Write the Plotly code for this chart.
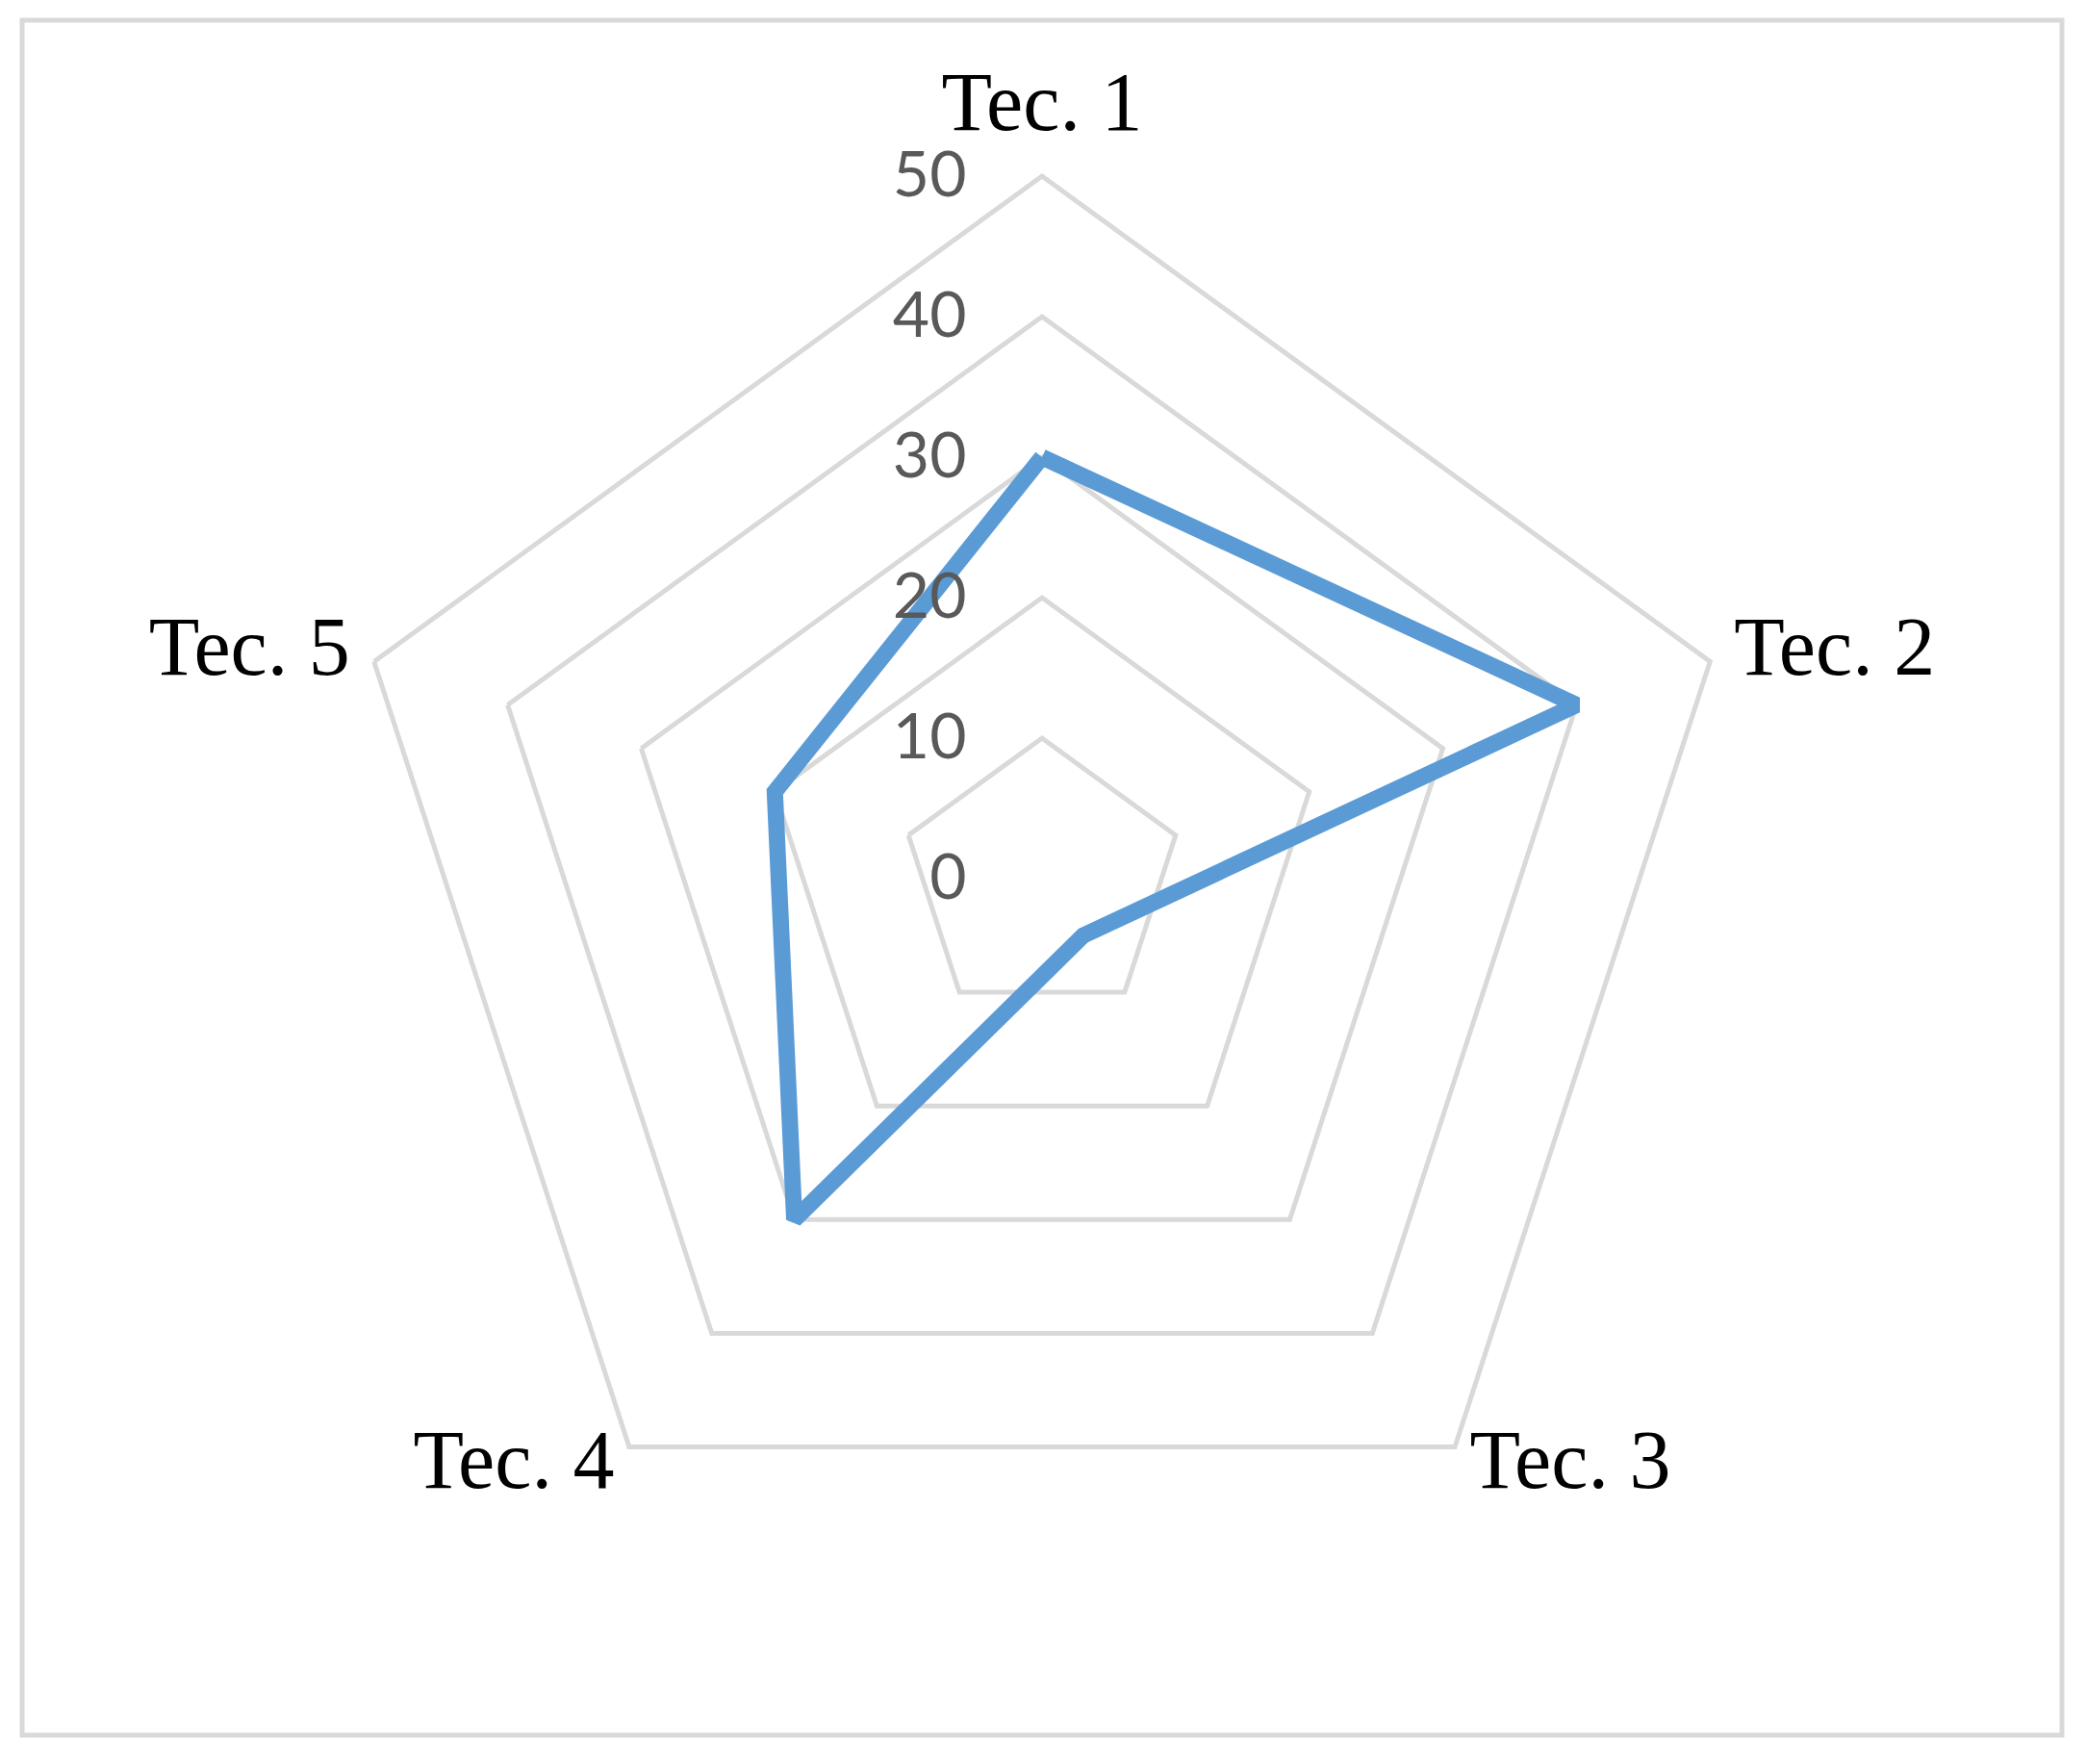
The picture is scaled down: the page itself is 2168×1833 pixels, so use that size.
import plotly.graph_objects as go

# data
categories = ["Tec. 1", "Tec. 2", "Tec. 3", "Tec. 4", "Tec. 5"]
values = [30, 40, 5, 30, 20]
radial_ticks = [0, 10, 20, 30, 40, 50]

W, H = 2168, 1833
OFF = 8  # page body margin
R_MAX = 55  # a bit of room past the 50 ring for the category labels
LABEL_R = 51.8
cx, cy = 1083 - OFF, 913 - OFF
rad = 730 * R_MAX / 50

fig = go.Figure()

fig.add_trace(go.Scatterpolar(
    r=values + values[:1],
    theta=categories + categories[:1],
    mode="lines",
    line=dict(color="#5b9bd5", width=17),
    showlegend=False,
))

# category labels, placed next to the outer ring like Excel does
fig.add_trace(go.Scatterpolar(
    r=[LABEL_R] * len(categories),
    theta=categories,
    mode="text",
    text=categories,
    textposition=["top center", "middle right", "middle right", "middle left", "middle left"],
    textfont=dict(family="Liberation Serif", size=86, color="black"),
    cliponaxis=False,
    hoverinfo="skip",
    showlegend=False,
))

fig.update_layout(
    width=W,
    height=H,
    margin=dict(l=0, r=0, t=0, b=0),
    paper_bgcolor="white",
    showlegend=False,
    polar=dict(
        domain=dict(
            x=[(cx - rad) / W, (cx + rad) / W],
            y=[(H - cy - rad) / H, (H - cy + rad) / H],
        ),
        bgcolor="white",
        gridshape="linear",
        radialaxis=dict(
            range=[0, R_MAX],
            tickvals=radial_ticks,
            angle=90,
            side="counterclockwise",
            showline=False,
            showgrid=True,
            gridcolor="#d9d9d9",
            gridwidth=5,
            ticks="outside",
            ticklen=55,
            tickcolor="rgba(0,0,0,0)",
            tickangle=90,
            tickfont=dict(family="Lato", size=66, color="#595959"),
        ),
        angularaxis=dict(
            categoryarray=categories,
            rotation=90,
            direction="clockwise",
            showline=False,
            showgrid=False,
            ticks="",
            showticklabels=False,
        ),
    ),
    shapes=[dict(
        type="rect", xref="paper", yref="paper",
        x0=(23 - OFF) / W, x1=(2143 - OFF) / W,
        y0=1 - (1803 - OFF) / H, y1=1 - (21 - OFF) / H,
        line=dict(color="#d9d9d9", width=5),
        fillcolor="rgba(0,0,0,0)",
        layer="below",
    )],
)

fig.write_html("out.html")
